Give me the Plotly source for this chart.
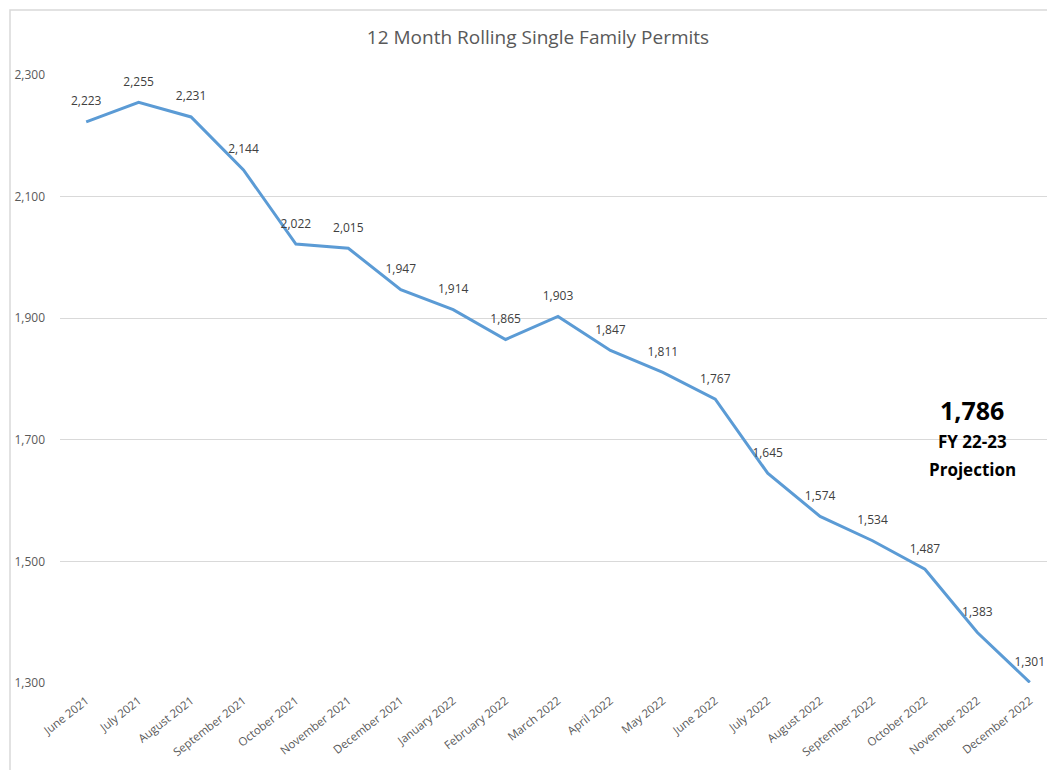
import plotly.graph_objects as go

months = ["June 2021", "July 2021", "August 2021", "September 2021", "October 2021",
          "November 2021", "December 2021", "January 2022", "February 2022", "March 2022",
          "April 2022", "May 2022", "June 2022", "July 2022", "August 2022",
          "September 2022", "October 2022", "November 2022", "December 2022"]
permits = [2223, 2255, 2231, 2144, 2022, 2015, 1947, 1914, 1865, 1903,
           1847, 1811, 1767, 1645, 1574, 1534, 1487, 1383, 1301]
y_ticks = [1300, 1500, 1700, 1900, 2100, 2300]
projection_value = "1,786"
projection_lines = ["FY 22-23", "Projection"]

OFF = 8  # page offset of the figure in the browser
W, H = 1055, 770
L, R, T, B = 60 - OFF, 7, 75 - OFF, 95

def px(x):
    return (x - OFF - L) / (W - L - R)

def py(y):
    return (H - B - (y - OFF)) / (H - T - B)

fig = go.Figure()
fig.add_trace(go.Scatter(
    x=months, y=permits, mode="lines+markers+text",
    line=dict(color="#5b9bd5", width=3),
    marker=dict(size=20, color="rgba(0,0,0,0)"),
    text=[f"{v:,}" for v in permits],
    textposition="top center",
    textfont=dict(family="Open Sans", size=12, color="#404040"),
    cliponaxis=False, hoverinfo="skip", showlegend=False,
))

fig.update_layout(
    width=W, height=H,
    margin=dict(l=L, r=R, t=T, b=B),
    paper_bgcolor="white", plot_bgcolor="white",
    title=dict(text="12 Month Rolling Single Family Permits",
               x=px(538), xanchor="center", xref="paper",
               y=1 - (37 - OFF) / H, yanchor="middle",
               font=dict(family="Open Sans", size=19, color="#595959")),
    xaxis=dict(type="category", showgrid=False, showline=False, ticks="",
               tickangle=-38, ticklabelstandoff=8,
               tickfont=dict(family="Open Sans", size=11.5, color="#595959"),
               range=[-0.5, len(months) - 0.5]),
    yaxis=dict(range=[1300, 2300], tickvals=y_ticks, tickformat=",",
               showgrid=True, gridcolor="#d9d9d9", gridwidth=1, zeroline=False,
               showline=False, ticks="", ticklabelstandoff=14,
               tickfont=dict(family="Open Sans", size=12, color="#595959")),
    font=dict(family="Open Sans"),
)

fig.add_shape(type="rect", xref="paper", yref="paper",
              x0=px(10), x1=px(1080), y0=py(800), y1=py(10),
              line=dict(color="#d9d9d9", width=1.5), fillcolor="rgba(0,0,0,0)", layer="below")

fig.add_annotation(xref="paper", yref="paper", x=px(972), y=py(410), xanchor="center",
                   text=f"<b>{projection_value}</b>", showarrow=False,
                   font=dict(family="Open Sans", size=25, color="#000000"))
fig.add_annotation(xref="paper", yref="paper", x=px(972), y=py(441), xanchor="center",
                   text=f"<b>{projection_lines[0]}</b>", showarrow=False,
                   font=dict(family="Open Sans", size=17, color="#000000"))
fig.add_annotation(xref="paper", yref="paper", x=px(972), y=py(469), xanchor="center",
                   text=f"<b>{projection_lines[1]}</b>", showarrow=False,
                   font=dict(family="Open Sans", size=17, color="#000000"))

fig.write_html("out.html")
